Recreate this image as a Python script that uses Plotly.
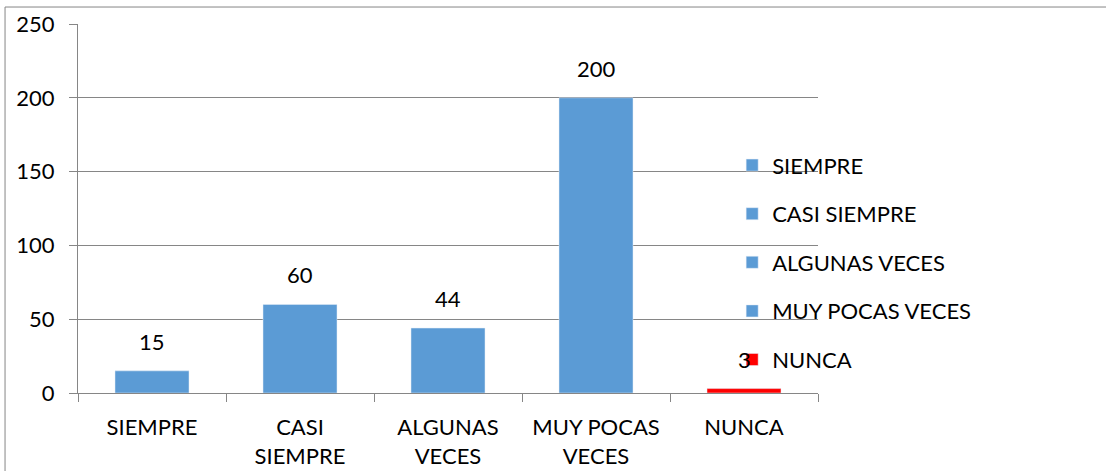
import plotly.graph_objects as go

categories = ["SIEMPRE", "CASI SIEMPRE", "ALGUNAS VECES", "MUY POCAS VECES", "NUNCA"]
tick_labels = ["SIEMPRE", "CASI<br>SIEMPRE", "ALGUNAS<br>VECES", "MUY POCAS<br>VECES", "NUNCA"]
values = [15, 60, 44, 200, 3]
colors = ["#5B9BD5", "#5B9BD5", "#5B9BD5", "#5B9BD5", "#FF0000"]

FONT = "Lato"
FS = 22
fig = go.Figure()
for i, (c, v, col) in enumerate(zip(categories, values, colors)):
    fig.add_trace(go.Bar(
        x=[tick_labels[i]], y=[v], name=c, marker_color=col,
        width=0.5, legendgroup=c,
    ))
    fig.add_annotation(x=tick_labels[i], y=v, text=str(v), showarrow=False,
                       yanchor="bottom", yshift=14,
                       font=dict(family=FONT, size=FS, color="#000000"))

fig.update_layout(
    width=1106, height=471,
    margin=dict(l=78, r=288, t=24, b=78, autoexpand=False),
    paper_bgcolor="white", plot_bgcolor="white",
    barmode="overlay",
    showlegend=True,
    legend=dict(x=0.884, y=0.674, xanchor="left", yanchor="top",
                font=dict(family=FONT, size=FS, color="#000000"),
                tracegroupgap=17, itemwidth=30, bgcolor="rgba(0,0,0,0)"),
    font=dict(family=FONT, size=FS, color="#000000"),
)
fig.update_yaxes(range=[0, 250], dtick=50, showgrid=True, gridcolor="#868686",
                 gridwidth=1, showline=True, linecolor="#868686", linewidth=1,
                 ticks="outside", ticklen=8, tickcolor="#868686", zeroline=False,
                 ticklabelstandoff=10, automargin=False,
                 tickfont=dict(family=FONT, size=FS))
fig.update_xaxes(showline=True, linecolor="#868686", linewidth=1,
                 ticks="outside", ticklen=8, tickcolor="#868686",
                 tickson="boundaries", showgrid=False, ticklabelstandoff=15,
                 automargin=False,
                 tickfont=dict(family=FONT, size=FS))
fig.add_shape(type="rect", xref="paper", yref="paper",
              x0=-0.0986, x1=2, y0=-2, y1=1.046,
              line=dict(color="#868686", width=1))
fig.write_html("out.html", config={"displayModeBar": False},
               post_script="document.body.style.margin='0';")
